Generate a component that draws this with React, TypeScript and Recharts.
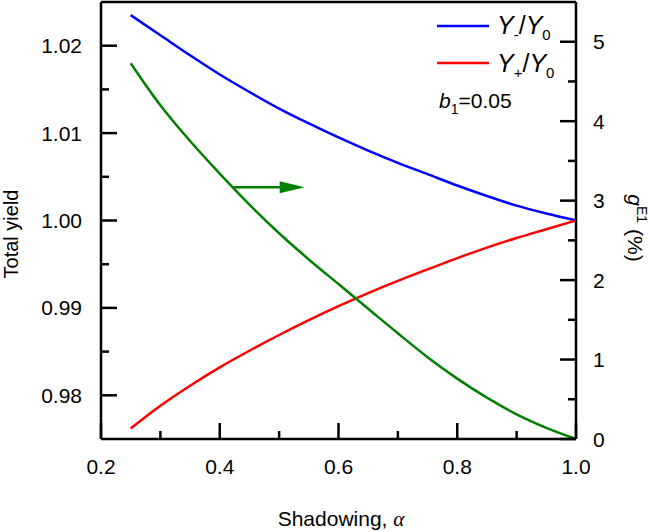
import React from "react";
import { LineChart, Line, XAxis, YAxis, ReferenceLine } from "recharts";

// shadowing parameter alpha
const alpha = [
  0.25, 0.3, 0.35, 0.4, 0.45, 0.5, 0.55, 0.6, 0.65, 0.7, 0.75, 0.8, 0.85, 0.9,
  0.95, 1.0,
];
// Y-/Y0 (left axis)
const yMinus = [
  1.0235, 1.0212, 1.0189, 1.0167, 1.0147, 1.0128, 1.0111, 1.0095, 1.008,
  1.0066, 1.0053, 1.004, 1.0028, 1.0017, 1.0008, 1.0,
];
// Y+/Y0 (left axis)
const yPlus = [
  0.9762, 0.9788, 0.9811, 0.9832, 0.9851, 0.9869, 0.9886, 0.9902, 0.9917,
  0.9931, 0.9944, 0.9957, 0.9969, 0.998, 0.999, 1.0,
];
// g^E1 in % (right axis)
const gE1 = [
  4.73, 4.2, 3.75, 3.34, 2.95, 2.59, 2.26, 1.95, 1.64, 1.33, 1.03, 0.76, 0.52,
  0.31, 0.14, 0.0,
];

const xMajor = [0.2, 0.4, 0.6, 0.8, 1.0];
const xMinor = [0.3, 0.5, 0.7, 0.9];
const leftMajor = [0.98, 0.99, 1.0, 1.01, 1.02];
const leftMinor = [0.985, 0.995, 1.005, 1.015];
const rightMajor = [0, 1, 2, 3, 4, 5];
const rightMinor = [0.5, 1.5, 2.5, 3.5, 4.5];

// arrow pointing at the right axis from the g^E1 curve
const arrowLevel = 3.17;
const arrowFrom = 0.423;
const arrowTo = 0.543;

const data = alpha.map((a, i) => ({
  a,
  yMinus: yMinus[i],
  yPlus: yPlus[i],
  g: gE1[i],
}));

const FONT = "'Liberation Sans', Arial, sans-serif";
const MAJOR_LEN = 16;
const MINOR_LEN = 8;
const TICK_W = 2.5;

const isIn = (list: number[], v: number) =>
  list.some((t) => Math.abs(t - v) < 1e-9);

const LeftTick = ({ x, y, payload }: any) => {
  const major = isIn(leftMajor, payload.value);
  return (
    <g>
      <line
        x1={x}
        y1={y}
        x2={x + (major ? MAJOR_LEN : MINOR_LEN)}
        y2={y}
        stroke="#000"
        strokeWidth={TICK_W}
      />
      {major && (
        <text
          x={x - 19}
          y={y + 7.5}
          textAnchor="end"
          fontSize={21}
          fontFamily={FONT}
          fill="#000"
        >
          {payload.value.toFixed(2)}
        </text>
      )}
    </g>
  );
};

const RightTick = ({ x, y, payload }: any) => {
  const major = isIn(rightMajor, payload.value);
  return (
    <g>
      <line
        x1={x}
        y1={y}
        x2={x - (major ? MAJOR_LEN : MINOR_LEN)}
        y2={y}
        stroke="#000"
        strokeWidth={TICK_W}
      />
      {major && (
        <text
          x={x + 17}
          y={y + 7.5}
          textAnchor="start"
          fontSize={21}
          fontFamily={FONT}
          fill="#000"
        >
          {payload.value.toFixed(0)}
        </text>
      )}
    </g>
  );
};

const BottomTick = ({ x, y, payload }: any) => {
  const major = isIn(xMajor, payload.value);
  return (
    <g>
      <line
        x1={x}
        y1={y}
        x2={x}
        y2={y - (major ? MAJOR_LEN : MINOR_LEN)}
        stroke="#000"
        strokeWidth={TICK_W}
      />
      {major && (
        <text
          x={x}
          y={y + 35}
          textAnchor="middle"
          fontSize={21}
          fontFamily={FONT}
          fill="#000"
        >
          {payload.value.toFixed(1)}
        </text>
      )}
    </g>
  );
};

const Arrow = (props: any) => {
  const { x1, y1, x2 } = props;
  const head = 25;
  return (
    <g>
      <line
        x1={x1}
        y1={y1}
        x2={x2 - head + 2}
        y2={y1}
        stroke="#008000"
        strokeWidth={2.5}
      />
      <polygon
        points={`${x2},${y1} ${x2 - head},${y1 - 6} ${x2 - head},${y1 + 6}`}
        fill="#008000"
      />
    </g>
  );
};

const sortNum = (a: number, b: number) => a - b;

export default function App() {
  return (
    <div
      style={{
        position: "absolute",
        left: 0,
        top: 0,
        width: 650,
        height: 532,
        background: "#fff",
      }}
    >
      <LineChart
        width={650}
        height={532}
        data={data}
        margin={{ top: 2, right: 0, bottom: 0, left: 0 }}
      >
        <XAxis
          dataKey="a"
          type="number"
          domain={[0.2, 1.0]}
          ticks={[...xMajor, ...xMinor].sort(sortNum)}
          interval={0}
          height={93}
          tickLine={false}
          tickSize={0}
          tickMargin={0}
          tick={<BottomTick />}
          axisLine={{ stroke: "#000", strokeWidth: 2.5 }}
        />
        <YAxis
          yAxisId="left"
          orientation="left"
          type="number"
          domain={[0.975, 1.025]}
          ticks={[...leftMajor, ...leftMinor].sort(sortNum)}
          interval={0}
          width={101}
          tickLine={false}
          tickSize={0}
          tickMargin={0}
          tick={<LeftTick />}
          axisLine={{ stroke: "#000", strokeWidth: 2.5 }}
        />
        <YAxis
          yAxisId="right"
          orientation="right"
          type="number"
          domain={[0, 5.5]}
          ticks={[...rightMajor, ...rightMinor].sort(sortNum)}
          interval={0}
          width={74}
          tickLine={false}
          tickSize={0}
          tickMargin={0}
          tick={<RightTick />}
          axisLine={{ stroke: "#000", strokeWidth: 2.5 }}
        />
        {/* top frame */}
        <ReferenceLine
          yAxisId="left"
          y={1.025}
          stroke="#000"
          strokeWidth={2.5}
        />
        <Line
          yAxisId="left"
          type="monotone"
          dataKey="yMinus"
          stroke="#0000ff"
          strokeWidth={2.5}
          dot={false}
          isAnimationActive={false}
        />
        <Line
          yAxisId="left"
          type="monotone"
          dataKey="yPlus"
          stroke="#ff0000"
          strokeWidth={2.5}
          dot={false}
          isAnimationActive={false}
        />
        <Line
          yAxisId="right"
          type="monotone"
          dataKey="g"
          stroke="#008000"
          strokeWidth={2.5}
          dot={false}
          isAnimationActive={false}
        />
        <ReferenceLine
          yAxisId="right"
          segment={[
            { x: arrowFrom, y: arrowLevel },
            { x: arrowTo, y: arrowLevel },
          ]}
          shape={<Arrow />}
        />
      </LineChart>

      <svg
        width={650}
        height={532}
        style={{ position: "absolute", left: 0, top: 0, pointerEvents: "none" }}
        fontFamily={FONT}
        fill="#000"
      >
        {/* legend */}
        <line x1={437} y1={26} x2={489} y2={26} stroke="#0000ff" strokeWidth={2.5} />
        <text x={497} y={34} fontSize={25}>
          <tspan fontStyle="italic">Y</tspan>
          <tspan fontSize={15} dy={6}>-</tspan>
          <tspan dy={-6}>/</tspan>
          <tspan fontStyle="italic">Y</tspan>
          <tspan fontSize={15} dy={6}>0</tspan>
        </text>
        <line x1={437} y1={63} x2={489} y2={63} stroke="#ff0000" strokeWidth={2.5} />
        <text x={497} y={72} fontSize={25}>
          <tspan fontStyle="italic">Y</tspan>
          <tspan fontSize={15} dy={6}>+</tspan>
          <tspan dy={-6}>/</tspan>
          <tspan fontStyle="italic">Y</tspan>
          <tspan fontSize={15} dy={6}>0</tspan>
        </text>
        <text x={439} y={108} fontSize={21}>
          <tspan fontStyle="italic">b</tspan>
          <tspan fontSize={14} dy={6}>1</tspan>
          <tspan dy={-6}>=0.05</tspan>
        </text>

        {/* axis titles */}
        <text
          transform="translate(18,234) rotate(-90)"
          textAnchor="middle"
          fontSize={20}
        >
          Total yield
        </text>
        <text
          transform="translate(628,228) rotate(90)"
          textAnchor="middle"
          fontSize={21}
        >
          <tspan fontStyle="italic">g</tspan>
          <tspan fontSize={14} dy={-9}>E1</tspan>
          <tspan dy={9}> (%)</tspan>
        </text>
        <text x={341} y={526} textAnchor="middle" fontSize={21}>
          Shadowing,{" "}
          <tspan fontStyle="italic" fontFamily="'Liberation Serif', serif">
            α
          </tspan>
        </text>
      </svg>
    </div>
  );
}
